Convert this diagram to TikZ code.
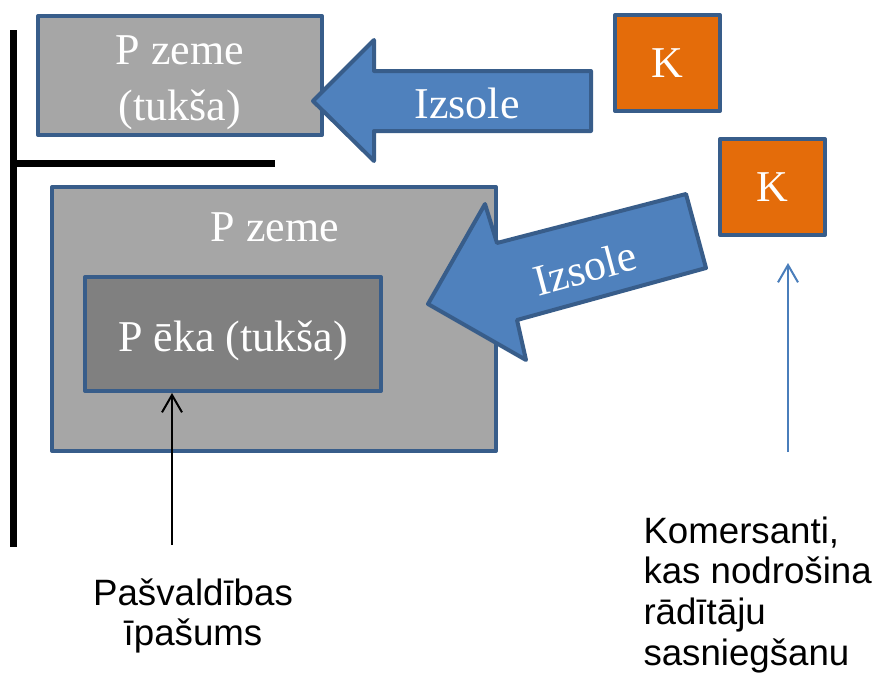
\documentclass[tikz,border=0pt]{standalone}
\usepackage{fontspec}
\setmainfont{Liberation Serif}
\setsansfont{Liberation Sans}
\definecolor{zemegray}{RGB}{166,166,166}
\definecolor{ekagray}{RGB}{128,128,128}
\definecolor{edgeblue}{RGB}{56,93,138}
\definecolor{arrowblue}{RGB}{79,129,189}
\definecolor{komorange}{RGB}{228,108,10}
\definecolor{linkblue}{RGB}{74,126,187}
\usepackage{tikz}
\usetikzlibrary{arrows.meta}
\tikzset{every picture/.style={line width=0.75pt}}
\tikzset{
  boxtext/.style={text=white, inner sep=0pt, align=center, font=\fontsize{33}{42}\selectfont},
  plotbox/.style={boxtext, draw=edgeblue, line width=3pt, line join=round},
  izsole/.style={draw=edgeblue, fill=arrowblue, line width=3pt, line join=round},
  note/.style={inner sep=0pt, font=\sffamily\fontsize{27.5}{30.5}\selectfont},
  pointer/.style={line width=1.5pt, -{Straight Barb[length=13pt,width=15pt]}}
}

\begin{document}
\begin{tikzpicture}[x=0.75pt,y=0.75pt,yscale=-1,xscale=1]
\useasboundingbox (0,0) rectangle (877,675);

%Straight Lines 
\draw [line width=5.25pt] (13.5,30) -- (13.5,547) ;
%Straight Lines 
\draw [line width=5.25pt] (13.5,163) -- (275,163) ;

%Shape: Rectangle 
\node [plotbox, fill=zemegray, minimum width=213pt, minimum height=89.25pt] (zemeA) at (180,75.5) {};
%Shape: Rectangle 
\node [plotbox, fill=zemegray, minimum width=333pt, minimum height=198pt] (zemeB) at (274,319) {};
%Shape: Rectangle 
\node [plotbox, fill=ekagray, minimum width=222pt, minimum height=85.5pt, text height=34pt, text depth=8pt] (eka) at (233,334) {P ēka (tukša)};
%Shape: Rectangle 
\node [plotbox, fill=komorange, minimum width=78.75pt, minimum height=72pt] (komA) at (667.5,63) {K};
%Shape: Rectangle 
\node [plotbox, fill=komorange, minimum width=78.75pt, minimum height=72pt] (komB) at (772.5,187) {K};

%Shape: Left Arrow 
\draw [izsole] (313,101) -- (374,40) -- (374,71) -- (591,71) -- (591,131) -- (374,131) -- (374,161) -- cycle ;
%Shape: Left Arrow 
\draw [izsole] (428,304) -- (485,204) -- (497,243) -- (686,194) -- (706,268) -- (517,320) -- (526,360) -- cycle ;

% Text Node
\node [boxtext] (zemeAlbl) at (180,82.5) {P zeme\\(tukša)};
% Text Node
\node [boxtext] (zemeBlbl) at (275,227) {P zeme};
% Text Node
\node [boxtext] (izsoleA) at (467,103) {Izsole};
% Text Node
\node [boxtext, rotate=15] (izsoleB) at (585,268) {Izsole};

% Text Node
\node [note, align=center, anchor=north] (pasv) at (193,578) {Pašvaldības\\īpašums};
\coordinate (pasvtail) at (172,545);
\draw [pointer] (pasvtail) -- (pasvtail |- eka.south) ;

% Text Node
\node [note, align=left, anchor=north west] (kom) at (643,516) {Komersanti,\\kas nodrošina\\rādītāju\\sasniegšanu};
\coordinate (komtail) at (788,452);
\coordinate (komhead) at (788,263);
\draw [pointer, draw=linkblue] (komtail) -- (komhead) ;

\end{tikzpicture}
\end{document}
